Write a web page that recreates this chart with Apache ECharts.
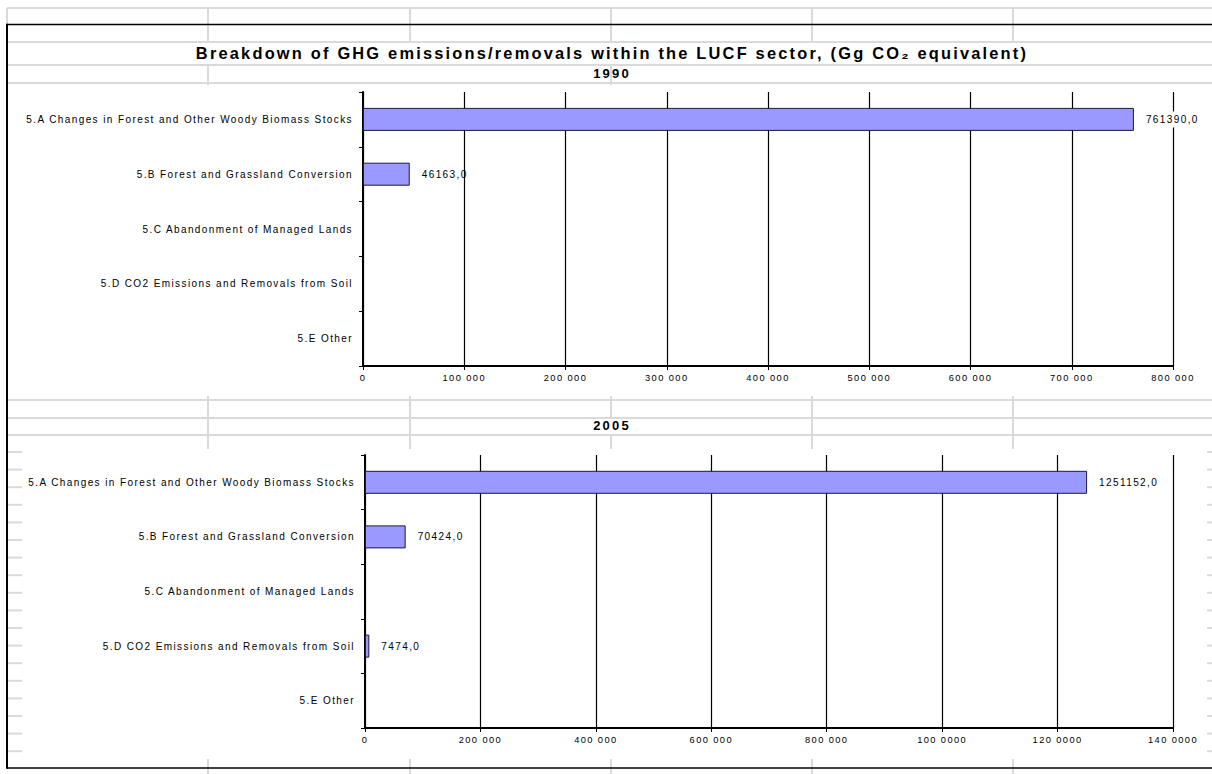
<!DOCTYPE html>
<html>
<head>
<meta charset="utf-8">
<script src="https://cdn.jsdelivr.net/npm/echarts@6/dist/echarts.min.js"></script>
<style>
  html, body { margin: 0; padding: 0; background: #fff; }
  #chart { width: 1212px; height: 774px; }
  /* spreadsheet-style wide glyph spacing */
  #chart text { letter-spacing: 1.4px; }
  #chart text[style*="bold"] { letter-spacing: 2.2px; }
</style>
</head>
<body>
<div id="chart"></div>
<script>
// LUCF sector source categories
const categories = [
  '5.A Changes in Forest and Other Woody Biomass Stocks',
  '5.B Forest and Grassland Conversion',
  '5.C Abandonment of Managed Lands',
  '5.D CO2 Emissions and Removals from Soil',
  '5.E Other'
];

// Emissions/removals, Gg CO2 equivalent (empty = not reported)
const values1990 = [761390.0, 46163.0, null, null, null];
const values2005 = [1251152.0, 70424.0, null, 7474.0, null];

// Value-axis tick labels
const ticks1990 = ['0', '100 000', '200 000', '300 000', '400 000', '500 000', '600 000', '700 000', '800 000'];
const ticks2005 = ['0', '200 000', '400 000', '600 000', '800 000', '100 0000', '120 0000', '140 0000'];

const mainTitle = 'Breakdown of GHG emissions/removals within the LUCF sector, (Gg CO\u2082 equivalent)';
const yearTitles = ['1990', '2005'];

const FONT = '"Liberation Sans", Arial, sans-serif';
const CELL = '#dadada';

// Worksheet cell lines and chart frame behind the charts
const deco = [];
function seg(x1, y1, x2, y2, color, w) {
  deco.push({ type: 'line', silent: true, z: 0,
    shape: { x1: x1, y1: y1, x2: x2, y2: y2 },
    style: { stroke: color, lineWidth: w } });
}
const cols = [208, 410, 611, 812, 1013];
// top rows
seg(7, 8, 1212, 8, CELL, 2);
seg(7, 8, 7, 24, CELL, 2);
[42, 65, 83].forEach(y => seg(8, y, 1212, y, CELL, 2));
cols.forEach(x => seg(x, 8, x, 42, CELL, 2));
[208, 611].forEach(x => seg(x, 65, x, 85, CELL, 2));
// rows between the two charts
[400, 418, 435].forEach(y => seg(8, y, 1212, y, CELL, 2));
cols.forEach(x => {
  if (x === 611) { seg(x, 396, x, 418, CELL, 2); seg(x, 435, x, 449, CELL, 2); }
  else seg(x, 396, x, 449, CELL, 2);
});
// row stubs at the edges of the lower chart
for (let k = 0; k < 18; k++) {
  const y = 452 + k * 17.6;
  seg(8, y, 22, y, CELL, 2);
  seg(1207, y, 1212, y, CELL, 2);
}
// column stubs under the frame
cols.forEach(x => seg(x, 759, x, 774, CELL, 2));
// chart frame
seg(7, 24.5, 1212, 24.5, '#000', 1.5);
seg(7, 768, 1212, 768, '#000', 1.5);
seg(7, 23.8, 7, 768.7, '#000', 2);

function fmtValue(p) {
  return p.value == null ? '' : Number(p.value).toFixed(1).replace('.', ',');
}

function valueAxis(gridIndex, max, interval, ticks) {
  return {
    type: 'value', gridIndex: gridIndex, min: 0, max: max, interval: interval,
    axisLine: { show: true, lineStyle: { color: '#000', width: 2 } },
    axisTick: { show: true, length: 4, lineStyle: { color: '#000', width: 1 } },
    splitLine: { show: true, lineStyle: { color: '#000', width: 1.2 } },
    axisLabel: { fontSize: 9.3, color: '#000', fontFamily: FONT, margin: 7,
      formatter: v => ticks[Math.round(v / interval)] }
  };
}

function categoryAxis(gridIndex) {
  return {
    type: 'category', gridIndex: gridIndex, data: categories, inverse: true,
    axisLine: { show: true, lineStyle: { color: '#000', width: 2 } },
    axisTick: { show: true, length: 4, alignWithLabel: false, lineStyle: { color: '#000', width: 1 } },
    splitLine: { show: false },
    axisLabel: { fontSize: 10, color: '#000', fontFamily: FONT, margin: 10 }
  };
}

function barSeries(idx, data) {
  return {
    type: 'bar', xAxisIndex: idx, yAxisIndex: idx, data: data, barWidth: 23,
    itemStyle: { color: '#9999ff', borderColor: '#1a1a40', borderWidth: 1 },
    label: { show: true, position: 'right', distance: 10, fontSize: 10,
      color: '#000', fontFamily: FONT, formatter: fmtValue,
      backgroundColor: '#fff', padding: [3, 2, 3, 2] },
    z: 3
  };
}

const chart = echarts.init(document.getElementById('chart'), null, { renderer: 'svg' });
chart.setOption({
  animation: false,
  backgroundColor: '#fff',
  textStyle: { fontFamily: FONT },
  title: [
    { text: mainTitle, left: 612, top: 45, textAlign: 'center', padding: 0,
      textStyle: { fontSize: 16.4, fontWeight: 'bold', color: '#000', fontFamily: FONT } },
    { text: yearTitles[0], left: 612, top: 67, textAlign: 'center', padding: 0,
      textStyle: { fontSize: 13, fontWeight: 'bold', color: '#000', fontFamily: FONT } },
    { text: yearTitles[1], left: 612, top: 419, textAlign: 'center', padding: 0,
      textStyle: { fontSize: 13, fontWeight: 'bold', color: '#000', fontFamily: FONT } }
  ],
  grid: [
    { left: 363, top: 92, width: 810, height: 274, outerBoundsMode: 'none', containLabel: false },
    { left: 365, top: 455, width: 808, height: 273, outerBoundsMode: 'none', containLabel: false }
  ],
  xAxis: [
    valueAxis(0, 800000, 100000, ticks1990),
    valueAxis(1, 1400000, 200000, ticks2005)
  ],
  yAxis: [categoryAxis(0), categoryAxis(1)],
  series: [barSeries(0, values1990), barSeries(1, values2005)],
  graphic: { elements: deco }
});
</script>
</body>
</html>
